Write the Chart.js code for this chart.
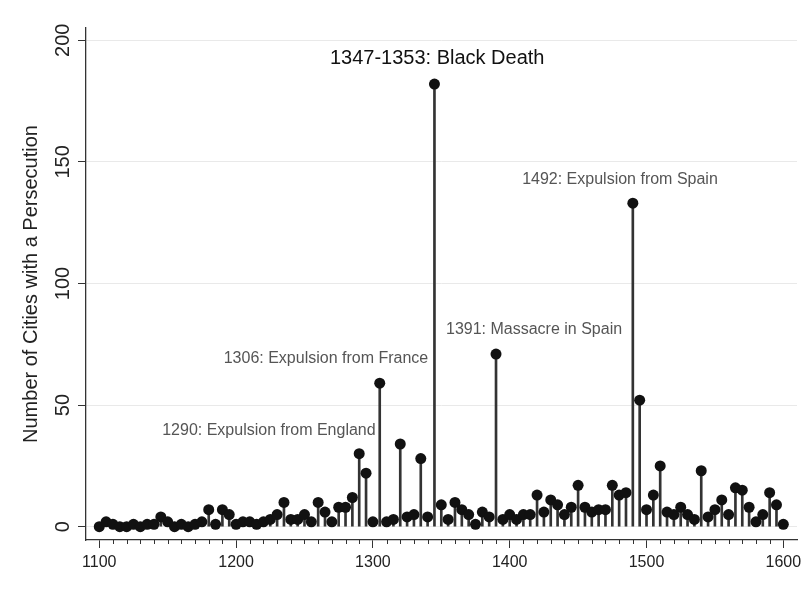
<!DOCTYPE html>
<html lang="en">
<head>
    <meta charset="UTF-8">
    <title>Cities with a Persecution, 1100-1600</title>
    <script src="https://cdn.jsdelivr.net/npm/chart.js"></script>
    <style>
        html, body { margin: 0; padding: 0; background: #fff; }
        canvas { display: block; }
    </style>
</head>
<body>
    <canvas id="persecutionChart" width="811" height="593"></canvas>

    <script>
        // five-year bins, 1100..1600
        const years = [
            1100, 1105, 1110, 1115, 1120, 1125, 1130, 1135, 1140, 1145,
            1150, 1155, 1160, 1165, 1170, 1175, 1180, 1185, 1190, 1195,
            1200, 1205, 1210, 1215, 1220, 1225, 1230, 1235, 1240, 1245,
            1250, 1255, 1260, 1265, 1270, 1275, 1280, 1285, 1290, 1295,
            1300, 1305, 1310, 1315, 1320, 1325, 1330, 1335, 1340, 1345,
            1350, 1355, 1360, 1365, 1370, 1375, 1380, 1385, 1390, 1395,
            1400, 1405, 1410, 1415, 1420, 1425, 1430, 1435, 1440, 1445,
            1450, 1455, 1460, 1465, 1470, 1475, 1480, 1485, 1490, 1495,
            1500, 1505, 1510, 1515, 1520, 1525, 1530, 1535, 1540, 1545,
            1550, 1555, 1560, 1565, 1570, 1575, 1580, 1585, 1590, 1595,
            1600
        ];
        const persecutions = [
            0, 2, 1, 0, 0, 1, 0, 1, 1, 4,
            2, 0, 1, 0, 1, 2, 7, 1, 7, 5,
            1, 2, 2, 1, 2, 3, 5, 10, 3, 3,
            5, 2, 10, 6, 2, 8, 8, 12, 30, 22,
            2, 59, 2, 3, 34, 4, 5, 28, 4, 182,
            9, 3, 10, 7, 5, 1, 6, 4, 71, 3,
            5, 3, 5, 5, 13, 6, 11, 9, 5, 8,
            17, 8, 6, 7, 7, 17, 13, 14, 133, 52,
            7, 13, 25, 6, 5, 8, 5, 3, 23, 4,
            7, 11, 5, 16, 15, 8, 2, 5, 14, 9,
            1
        ];

        const xMajorTicks = [1100, 1200, 1300, 1400, 1500, 1600];
        const xMinorStep = 10;
        const yTicks = [0, 50, 100, 150, 200];

        // event notes, placed in data units (year, count)
        const noteTexts = [
            '1347-1353: Black Death',
            '1492: Expulsion from Spain',
            '1391: Massacre in Spain',
            '1306: Expulsion from France',
            '1290: Expulsion from England'
        ];
        const noteYears = [1347, 1480.6, 1417.8, 1265.7, 1224];
        const noteCounts = [192.6, 142.6, 81.2, 69, 39.7];

        const FONT = '"Liberation Sans", Arial, Helvetica, sans-serif';
        const AXIS_COLOR = '#333';

        const points = years.map((y, i) => ({ x: y, y: persecutions[i] }));

        const extrasPlugin = {
            id: 'extras',
            afterDraw(chart) {
                const ctx = chart.ctx;
                const xs = chart.scales.x;
                const ys = chart.scales.y;

                // minor x ticks every 10 years
                ctx.save();
                ctx.strokeStyle = AXIS_COLOR;
                ctx.lineWidth = 1;
                for (let yr = xMajorTicks[0]; yr <= xMajorTicks[xMajorTicks.length - 1]; yr += xMinorStep) {
                    if (xMajorTicks.includes(yr)) continue;
                    const px = Math.round(xs.getPixelForValue(yr)) + 0.5;
                    ctx.beginPath();
                    ctx.moveTo(px, ys.bottom);
                    ctx.lineTo(px, ys.bottom + 4);
                    ctx.stroke();
                }
                ctx.restore();

                // rotated y tick labels
                ctx.save();
                ctx.fillStyle = '#222';
                ctx.font = '20px ' + FONT;
                ctx.textAlign = 'center';
                ctx.textBaseline = 'middle';
                yTicks.forEach(v => {
                    ctx.save();
                    ctx.translate(63, ys.getPixelForValue(v));
                    ctx.rotate(-Math.PI / 2);
                    ctx.fillText(String(v), 0, 0);
                    ctx.restore();
                });
                ctx.restore();

                // event notes
                ctx.save();
                ctx.textAlign = 'center';
                ctx.textBaseline = 'middle';
                noteTexts.forEach((t, i) => {
                    if (i === 0) {
                        ctx.font = '20px ' + FONT;
                        ctx.fillStyle = '#111';
                    } else {
                        ctx.font = '16px ' + FONT;
                        ctx.fillStyle = '#555';
                    }
                    ctx.fillText(t, xs.getPixelForValue(noteYears[i]), ys.getPixelForValue(noteCounts[i]));
                });
                ctx.restore();
            }
        };

        const ctx = document.getElementById('persecutionChart').getContext('2d');
        new Chart(ctx, {
            type: 'bar',
            data: {
                datasets: [
                    {
                        type: 'scatter',
                        data: points,
                        pointRadius: 5.5,
                        pointBackgroundColor: '#111',
                        pointBorderWidth: 0,
                        order: 0
                    },
                    {
                        type: 'bar',
                        data: points,
                        backgroundColor: '#333',
                        barThickness: 2,
                        order: 1
                    }
                ]
            },
            options: {
                responsive: false,
                animation: false,
                layout: { padding: { top: 28, right: 14, left: 0, bottom: 0 } },
                plugins: {
                    legend: { display: false },
                    tooltip: { enabled: false }
                },
                scales: {
                    x: {
                        type: 'linear',
                        offset: false,
                        min: 1090.3,
                        max: 1610,
                        afterBuildTicks: s => { s.ticks = xMajorTicks.map(v => ({ value: v })); },
                        afterFit: s => { s.height = 53; },
                        ticks: {
                            color: '#222',
                            font: { family: FONT, size: 16 },
                            padding: 5,
                            maxRotation: 0,
                            callback: v => String(v)
                        },
                        grid: {
                            offset: false,
                            drawOnChartArea: false,
                            drawTicks: true,
                            tickLength: 8,
                            tickColor: AXIS_COLOR,
                            tickWidth: 1
                        },
                        border: { display: true, color: AXIS_COLOR, width: 1.3 }
                    },
                    y: {
                        type: 'linear',
                        min: -5.47,
                        max: 205.05,
                        afterBuildTicks: s => { s.ticks = yTicks.map(v => ({ value: v })); },
                        afterFit: s => { s.width = 86; },
                        ticks: { display: false },
                        grid: {
                            color: '#e9e9e9',
                            lineWidth: 1,
                            drawTicks: true,
                            tickLength: 8,
                            tickColor: AXIS_COLOR,
                            tickWidth: 1
                        },
                        border: { display: true, color: AXIS_COLOR, width: 1.3 },
                        title: {
                            display: true,
                            text: 'Number of Cities with a Persecution',
                            color: '#222',
                            font: { family: FONT, size: 20 },
                            padding: { top: 19, bottom: 0 }
                        }
                    }
                }
            },
            plugins: [extrasPlugin]
        });
    </script>
</body>
</html>
